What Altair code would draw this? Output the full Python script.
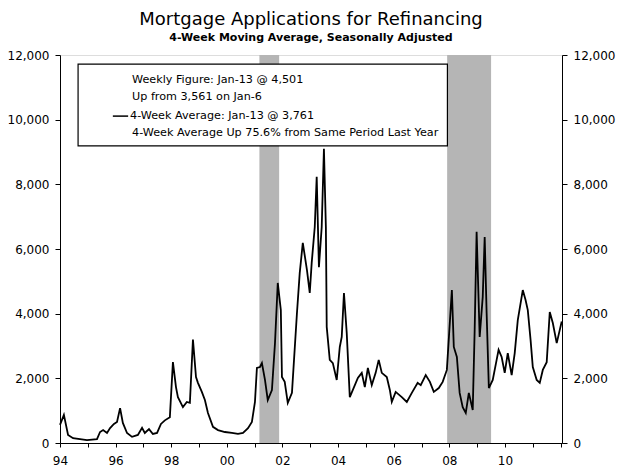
import altair as alt
import pandas as pd

# ---- data (decimal year, applications index) ----
years = [1994.00, 1994.14, 1994.29, 1994.47, 1994.97, 1995.33, 1995.44, 1995.55, 1995.69, 1995.80,
         1995.94, 1996.05, 1996.16, 1996.26, 1996.41, 1996.59, 1996.80, 1996.95, 1997.05, 1997.20,
         1997.34, 1997.49, 1997.63, 1997.77, 1997.95, 1998.06, 1998.17, 1998.24, 1998.42, 1998.56,
         1998.67, 1998.78, 1998.89, 1998.96, 1999.10, 1999.21, 1999.32, 1999.50, 1999.68, 1999.93,
         2000.18, 2000.40, 2000.58, 2000.76, 2000.90, 2001.01, 2001.08, 2001.19, 2001.26, 2001.37,
         2001.47, 2001.62, 2001.73, 2001.83, 2001.94, 2001.98, 2002.08, 2002.19, 2002.34, 2002.52,
         2002.62, 2002.73, 2002.88, 2002.98, 2003.05, 2003.16, 2003.23, 2003.31, 2003.41, 2003.49,
         2003.56, 2003.59, 2003.70, 2003.81, 2003.95, 2004.06, 2004.13, 2004.21, 2004.31, 2004.42,
         2004.53, 2004.71, 2004.85, 2004.96, 2005.07, 2005.21, 2005.35, 2005.46, 2005.57, 2005.75,
         2005.86, 2005.93, 2006.07, 2006.29, 2006.47, 2006.65, 2006.86, 2006.97, 2007.15, 2007.30,
         2007.44, 2007.62, 2007.76, 2007.91, 2008.09, 2008.16, 2008.27, 2008.37, 2008.48, 2008.59,
         2008.70, 2008.84, 2008.91, 2008.98, 2009.09, 2009.20, 2009.27, 2009.34, 2009.42, 2009.56,
         2009.70, 2009.77, 2009.88, 2009.99, 2010.10, 2010.24, 2010.35, 2010.46, 2010.64, 2010.74,
         2010.82, 2010.92, 2011.00, 2011.14, 2011.25, 2011.36, 2011.50, 2011.61, 2011.72, 2011.86,
         2011.97, 2012.04]
apps = [560, 870, 250, 150, 90, 120, 340, 400, 310, 460,
        590, 650, 1080, 620, 310, 190, 250, 470, 310, 430,
        280, 310, 590, 700, 800, 2500, 1730, 1420, 1110, 1270,
        1240, 3200, 2040, 1860, 1580, 1330, 930, 500, 400, 340,
        310, 280, 310, 460, 650, 1270, 2320, 2350, 2470, 1950,
        1330, 1640, 3090, 4950, 4110, 2040, 1890, 1240, 1550, 4020,
        5260, 6190, 5350, 4640, 5570, 6680, 8230, 5440, 6680, 9100,
        6680, 3590, 2570, 2470, 1950, 2970, 3280, 4640, 3400, 1420,
        1640, 2010, 2170, 1730, 2320, 1790, 2170, 2570, 2170, 2040,
        1640, 1270, 1580, 1420, 1270, 1550, 1860, 1790, 2100, 1890,
        1580, 1700, 1890, 2260, 4730, 2970, 2660, 1550, 1110, 930,
        1550, 1020, 3500, 6530, 3280, 4520, 6370, 4020, 1700, 1950,
        2570, 2880, 2660, 2170, 2780, 2100, 2780, 3800, 4730, 4420,
        4110, 3190, 2350, 1950, 1860, 2260, 2500, 4050, 3710, 3090,
        3500, 3760]

rec_start = [2001.17, 2007.92]
rec_end = [2001.88, 2009.50]
rec_top = [12000, 12000]
rec_bottom = [0, 0]

legend_lines = ["Weekly Figure: Jan-13 @ 4,501",
                "Up from 3,561 on Jan-6",
                "4-Week Average: Jan-13 @ 3,761",
                "4-Week Average Up 75.6% from Same Period Last Year"]
legend_x = [1996.59, 1996.59, 1996.52, 1996.59]
legend_y = [11230, 10700, 10110, 9590]

box_x = [1994.65]
box_x2 = [2007.93]
box_y = [11720]
box_y2 = [9190]

dash_x = [1995.90]
dash_x2 = [1996.45]
dash_y = [10110]

x_ticks = list(range(1994, 2013))
y_ticks = [0, 2000, 4000, 6000, 8000, 10000, 12000]

FONT = "DejaVu Sans"

df = pd.DataFrame({"year": years, "apps": apps})
rec_df = pd.DataFrame({"start": rec_start, "end": rec_end, "top": rec_top, "bottom": rec_bottom})
leg_df = pd.DataFrame({"x": legend_x, "y": legend_y, "t": legend_lines})
box_df = pd.DataFrame({"x": box_x, "x2": box_x2, "y": box_y, "y2": box_y2})
dash_df = pd.DataFrame({"x": dash_x, "x2": dash_x2, "y": dash_y})

xs = alt.Scale(domain=[1994, 2012.05], nice=False, zero=False)
ys = alt.Scale(domain=[0, 12000], nice=False)

x_axis = alt.Axis(values=x_ticks, title=None, grid=False,
                  labelExpr="datum.value <= 2010 && datum.value % 2 == 0 ? substring(toString(datum.value), 2) : ''",
                  labelFont=FONT, labelFontSize=12, labelColor="black", labelPadding=8,
                  tickSize=4, tickColor="black", domainColor="black", labelFlush=False)

rec = alt.Chart(rec_df).mark_rect(color="#b5b5b5").encode(
    x=alt.X("start:Q", scale=xs, axis=x_axis),
    x2="end:Q",
    y=alt.Y("top:Q", scale=ys,
            axis=alt.Axis(orient="right", values=y_ticks, format=",d", title=None, grid=False,
                          labelFont=FONT, labelFontSize=12, labelColor="black", labelPadding=6,
                          tickSize=5, tickColor="black", domainColor="black")),
    y2="bottom:Q",
)

line = alt.Chart(df).mark_line(color="black", strokeWidth=1.8).encode(
    x=alt.X("year:Q", scale=xs, axis=x_axis),
    y=alt.Y("apps:Q", scale=ys,
            axis=alt.Axis(orient="left", values=y_ticks, format=",d", title=None, grid=False,
                          labelFont=FONT, labelFontSize=12, labelColor="black", labelPadding=6,
                          tickSize=5, tickColor="black", domainColor="black")),
)

box = alt.Chart(box_df).mark_rect(fill="white", stroke="black", strokeWidth=1.2).encode(
    x=alt.X("x:Q", scale=xs, axis=x_axis), x2="x2:Q",
    y=alt.Y("y:Q", scale=ys, axis=None), y2="y2:Q",
)

dash = alt.Chart(dash_df).mark_rule(color="black", strokeWidth=1.5).encode(
    x=alt.X("x:Q", scale=xs, axis=x_axis), x2="x2:Q",
    y=alt.Y("y:Q", scale=ys, axis=None),
)

texts = alt.Chart(leg_df).mark_text(align="left", baseline="middle", font=FONT,
                                    fontSize=11.2, color="black").encode(
    x=alt.X("x:Q", scale=xs, axis=x_axis),
    y=alt.Y("y:Q", scale=ys, axis=None),
    text="t:N",
)

chart = alt.layer(rec, line, box, dash, texts).resolve_scale(y="independent").properties(
    width=502, height=388,
    title=alt.TitleParams("Mortgage Applications for Refinancing",
                          subtitle="4-Week Moving Average, Seasonally Adjusted",
                          font=FONT, fontSize=18, fontWeight="normal", color="black",
                          subtitleFont=FONT, subtitleFontSize=11, subtitleFontWeight="bold",
                          subtitleColor="black", subtitlePadding=3, anchor="middle", offset=6),
    autosize=alt.AutoSizeParams(type="none"),
    padding={"left": 52, "top": 47, "right": 56, "bottom": 28},
).configure_view(stroke="black", strokeWidth=1.2).configure(background="white")

chart.save("out.html", embed_options={"renderer": "svg", "actions": False})
